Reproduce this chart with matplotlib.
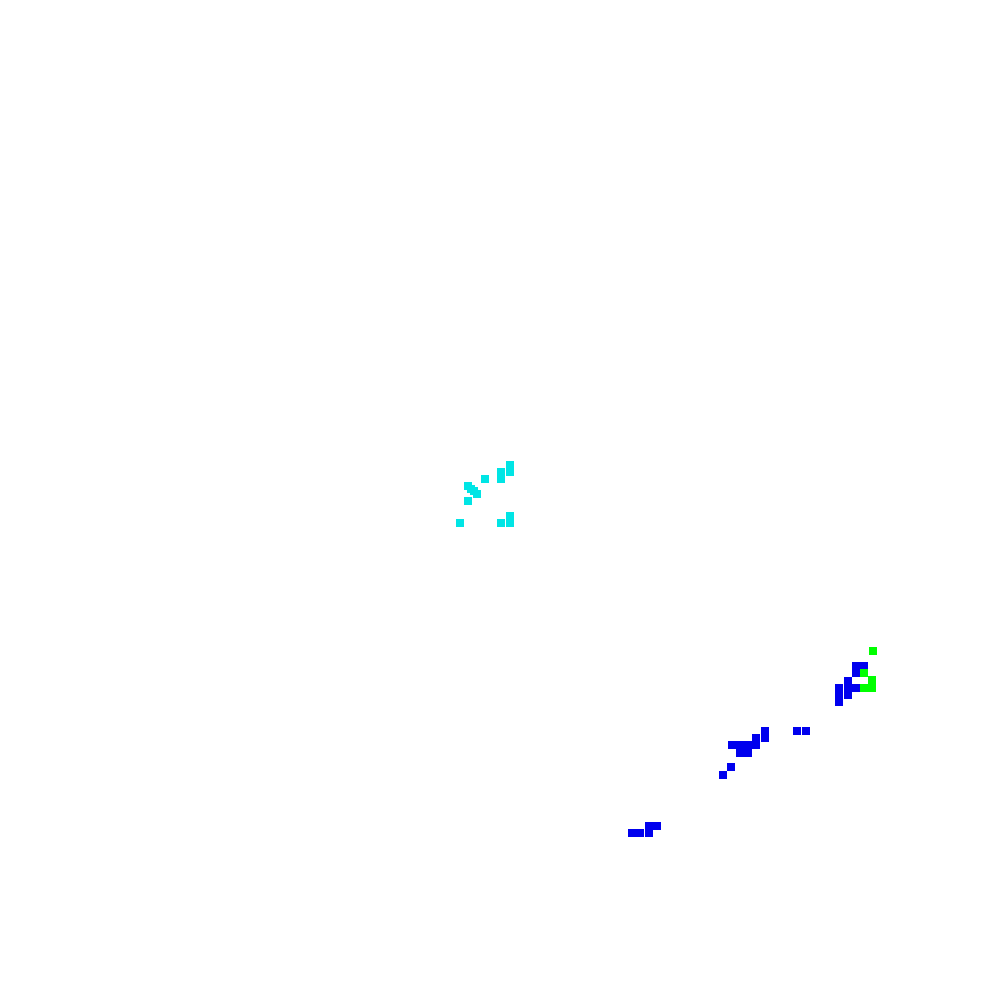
import matplotlib
matplotlib.use("Agg")
from matplotlib import pyplot as plt

# 三组散点（无坐标轴），数值取自原图
cyan_x = [51.0, 51.0, 50.1, 50.1, 48.5, 46.8, 47.1, 47.4, 47.7, 46.8, 46.0, 51.0, 50.1, 51.0]
cyan_y = [53.5, 52.8, 52.8, 52.1, 52.1, 51.4, 51.1, 50.9, 50.6, 49.9, 47.7, 48.4, 47.7, 47.7]

blue_x = [85.6, 86.4, 85.6, 84.8, 83.9, 84.8, 85.6, 83.9, 84.8, 83.9,
          79.7, 80.6, 76.5, 75.6, 76.5, 73.2, 74.0, 74.8, 75.6, 74.0,
          74.8, 73.1, 72.3, 64.9, 65.7, 63.2, 64.0, 64.9]
blue_y = [33.4, 33.4, 32.7, 31.9, 31.2, 31.2, 31.2, 30.5, 30.5, 29.8,
          26.9, 26.9, 26.9, 26.2, 26.2, 25.5, 25.5, 25.5, 25.5, 24.7,
          24.7, 23.3, 22.5, 17.4, 17.4, 16.7, 16.7, 16.7]

green_x = [87.3, 86.4, 87.2, 86.4, 87.2]
green_y = [34.9, 32.7, 32.0, 31.2, 31.2]

fig = plt.figure(figsize=(10, 10), dpi=100)
ax = fig.add_axes([0, 0, 1, 1])
ax.set_xlim(0, 100)
ax.set_ylim(0, 100)
ax.axis('off')

size = (8.6 * 72 / 100) ** 2  # 约 8.6 像素的方块
ax.scatter(cyan_x, cyan_y, s=size, marker='s', c='#00E5E5', linewidths=0)
ax.scatter(blue_x, blue_y, s=size, marker='s', c='#0000EE', linewidths=0)
ax.scatter(green_x, green_y, s=size, marker='s', c='#00FF00', linewidths=0)

fig.savefig('out.png', dpi=100, facecolor='white')
